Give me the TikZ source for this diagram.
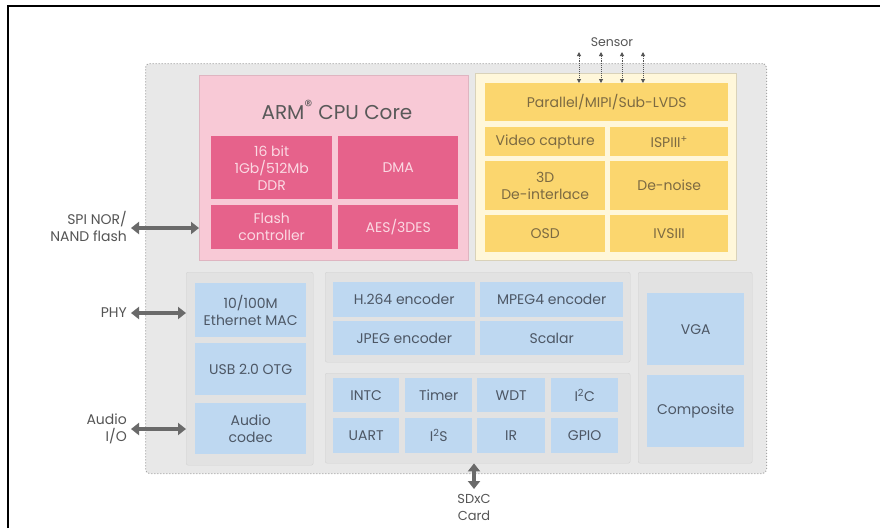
\documentclass[tikz,border=0pt]{standalone}
\usepackage{fontspec}
\setmainfont{Poppins}
\usetikzlibrary{arrows.meta}
\definecolor{pinkbg}{HTML}{F8C9D6}
\definecolor{pinkbox}{HTML}{E6628B}
\definecolor{pinktxt}{HTML}{FBD9E3}
\definecolor{yelbg}{HTML}{FFF7DA}
\definecolor{yelbox}{HTML}{FBD66E}
\definecolor{yeltxt}{HTML}{7C6A42}
\definecolor{bluebox}{HTML}{BED8F1}
\definecolor{bluetxt}{HTML}{4D5765}
\definecolor{graybox}{HTML}{E2E2E2}
\definecolor{grayline}{HTML}{D2D2D2}
\definecolor{outerbg}{HTML}{E8E8E8}
\definecolor{arrowc}{HTML}{6A6A6A}
\definecolor{labtxt}{HTML}{555555}
\newcommand{\bx}[7]{\node[#6, minimum width={#4-#2}, minimum height={#5-#3}] (#1) at (#2,#3) {#7};}
\begin{document}
\begin{tikzpicture}[x=1pt,y=-1pt,
  blk/.style={anchor=north west, inner sep=1pt, align=center, font=\fontsize{14}{17}\selectfont},
  pinkin/.style={blk, fill=pinkbox, text=pinktxt},
  yelin/.style={blk, fill=yelbox, text=yeltxt},
  bluein/.style={blk, fill=bluebox, text=bluetxt},
  grp/.style={blk, fill=graybox, draw=grayline, rounded corners=2pt},
  lab/.style={align=right, anchor=east, text=labtxt, font=\fontsize{14}{17}\selectfont, inner sep=1pt},
  bigarrow/.style={draw=arrowc, line width=4pt, {Triangle[length=8pt,width=12pt]}-{Triangle[length=8pt,width=12pt]}},
  thinarrow/.style={draw=labtxt, line width=0.9pt, densely dotted, {Triangle[length=4pt,width=4pt]}-{Triangle[length=4pt,width=4pt]}}]
\useasboundingbox (0,0) rectangle (880,528);
\fill[white] (0,0) rectangle (880,528);
\draw[line width=2.5pt] (8,528) -- (8,6) -- (880,6);
% outer chip area
\bx{chip}{145}{63}{766}{473}{blk, fill=outerbg, draw=gray!70, dotted, line width=1pt, rounded corners=4pt}{}
% ARM core
\bx{arm}{199}{75}{468}{260}{blk, fill=pinkbg, draw=pinkbg!90!black}{}
\node[text=black!65, font=\fontsize{20}{22}\selectfont] (armt) at (337,110) {ARM\textsuperscript{\fontsize{16}{16}\selectfont\textregistered} CPU Core};
\bx{ddr}{211}{136}{332}{199}{pinkin}{16 bit\\1Gb/512Mb\\DDR}
\bx{dma}{338}{136}{458}{199}{pinkin}{DMA}
\bx{flash}{211}{205}{332}{249}{pinkin}{Flash\\controller}
\bx{aes}{338}{205}{458}{249}{pinkin}{AES/3DES}
% video block
\bx{vid}{475}{73}{736}{260}{blk, fill=yelbg, draw=yelbg!85!black}{}
\bx{par}{485}{83}{728}{121}{yelin}{Parallel/MIPI/Sub-LVDS}
\bx{vcap}{485}{127}{605}{156}{yelin}{Video capture}
\bx{isp}{610}{127}{728}{156}{yelin}{ISPIII\textsuperscript{+}}
\bx{deint}{485}{161}{605}{210}{yelin}{3D\\De-interlace}
\bx{dnoise}{610}{161}{728}{210}{yelin}{De-noise}
\bx{osd}{485}{215}{605}{252}{yelin}{OSD}
\bx{ivs}{610}{215}{728}{252}{yelin}{IVSIII}
% left column
\bx{lcol}{186}{272}{313}{465}{grp}{}
\bx{eth}{195}{283}{306}{337}{bluein}{10/100M\\Ethernet MAC}
\bx{usb}{195}{343}{306}{395}{bluein}{USB 2.0 OTG}
\bx{acodec}{195}{403}{306}{454}{bluein}{Audio\\codec}
% encoders
\bx{enc}{325}{272}{630}{362}{grp}{}
\bx{h264}{333}{282}{475}{317}{bluein}{H.264 encoder}
\bx{mpeg}{480}{282}{623}{317}{bluein}{MPEG4 encoder}
\bx{jpeg}{333}{321}{475}{355}{bluein}{JPEG encoder}
\bx{scal}{480}{321}{623}{355}{bluein}{Scalar}
% peripherals
\bx{peri}{325}{373}{630}{463}{grp}{}
\bx{intc}{333}{378}{399}{412}{bluein}{INTC}
\bx{timer}{405}{378}{472}{412}{bluein}{Timer}
\bx{wdt}{477}{378}{545}{412}{bluein}{WDT}
\bx{iic}{551}{378}{618}{412}{bluein}{I\textsuperscript{2}C}
\bx{uart}{333}{418}{399}{453}{bluein}{UART}
\bx{iis}{405}{418}{472}{453}{bluein}{I\textsuperscript{2}S}
\bx{ir}{477}{418}{545}{453}{bluein}{IR}
\bx{gpio}{551}{418}{618}{453}{bluein}{GPIO}
% display
\bx{disp}{638}{272}{752}{463}{grp}{}
\bx{vga}{647}{293}{744}{365}{bluein}{VGA}
\bx{comp}{647}{375}{744}{447}{bluein}{Composite}
% external labels
\node[lab] (spi) at (128,226) {SPI NOR/\\NAND flash};
\node[lab] (phy) at (128,313) {PHY};
\node[lab] (aio) at (128,429) {Audio\\I/O};
\node[text=labtxt, font=\fontsize{12.5}{14}\selectfont, inner sep=1pt] (sensor) at (612,42) {Sensor};
\node[text=labtxt, font=\fontsize{13}{17}\selectfont, align=center, inner sep=1pt] (sd) at (474,507) {SDxC\\Card};
% arrows
\draw[bigarrow] (spi.east) ++(3,2) coordinate (spiA) -- (spiA -| arm.west);
\draw[bigarrow] (phy.east) ++(3,0) coordinate (phyA) -- (phyA -| lcol.west);
\draw[bigarrow] (aio.east) ++(3,0) coordinate (aioA) -- (aioA -| lcol.west);
\coordinate (sdA) at (474,489);
\draw[bigarrow] (sdA) -- (sdA |- peri.south);
\foreach \i/\x in {1/579,2/601,3/622,4/643}{
  \coordinate (sn\i) at (\x,52);
  \draw[thinarrow] (sn\i) -- (sn\i |- par.north);
}
\end{tikzpicture}
\end{document}
